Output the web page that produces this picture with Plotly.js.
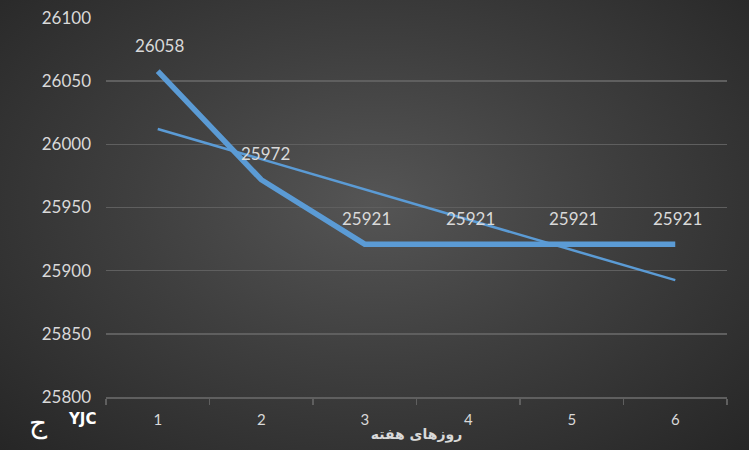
<!DOCTYPE html>
<html><head><meta charset="utf-8">
<script src="https://cdn.plot.ly/plotly-3.0.1.min.js"></script>
<style>
html,body{margin:0;padding:0;}
#wrap{width:749px;height:450px;background:radial-gradient(ellipse at 50% 45%, #555555 0%, #3f3f3f 45%, #262626 100%);}
#chart{width:749px;height:450px;}
</style></head>
<body><div id="wrap"><div id="chart"></div></div>
<script>
const days = [1, 2, 3, 4, 5, 6];
const values = [26058, 25972, 25921, 25921, 25921, 25921];
const yTicks = [25800, 25850, 25900, 25950, 26000, 26050, 26100];
const xTitle = 'روزهای هفته';

// linear trendline computed from the series
const n = days.length;
const mx = days.reduce((a,b)=>a+b,0)/n;
const my = values.reduce((a,b)=>a+b,0)/n;
let sxy=0, sxx=0;
for (let i=0;i<n;i++){ sxy += (days[i]-mx)*(values[i]-my); sxx += (days[i]-mx)**2; }
const slope = sxy/sxx, icpt = my - slope*mx;
const trend = days.map(d => icpt + slope*d);

const font = 'Lato, "Open Sans", sans-serif';
const data = [
  {x: days, y: trend, type:'scatter', mode:'lines', line:{color:'#5b9bd5', width:2.5}, hoverinfo:'skip'},
  {x: days, y: values, type:'scatter', mode:'lines', line:{color:'#5b9bd5', width:5.5}}
];
const labelAnn = days.map((d,i)=>({x: i, y: values[i], xref:'x', yref:'y', text:String(values[i]),
  showarrow:false, yshift:26, xshift: i===1 ? 4 : 2, font:{family:font, size:17, color:'#d9d9d9'}}));
const layout = {
  width:749, height:450,
  margin:{l:106, r:22, t:18, b:53},
  paper_bgcolor:'rgba(0,0,0,0)', plot_bgcolor:'rgba(0,0,0,0)',
  showlegend:false,
  font:{family:font, color:'#d9d9d9'},
  xaxis:{type:'category', range:[-0.5,5.5], tickvals:days, ticktext:days.map(String),
    tickson:'boundaries', ticks:'outside', ticklen:6, tickcolor:'#5f5f5f', tickwidth:1.5,
    showline:true, linecolor:'#5f5f5f', linewidth:1.5, showgrid:false, zeroline:false,
    ticklabelstandoff:8,
    tickfont:{size:15, color:'#d9d9d9'},
    title:{text:'<b>'+xTitle+'</b>', font:{family:'"DejaVu Sans", sans-serif', size:14, color:'#d9d9d9'}, standoff:2}},
  yaxis:{range:[25800,26100], tickvals:yTicks, ticktext:yTicks.map(String),
    showgrid:true, gridcolor:'#5f5f5f', gridwidth:1.5, zeroline:false, showline:false,
    ticks:'', ticklabelstandoff:14, tickfont:{size:17, color:'#d9d9d9'}},
  annotations: labelAnn.concat([
    {xref:'paper', yref:'paper', x:-0.108, y:-0.068, xanchor:'center', yanchor:'middle', showarrow:false,
     text:'ج', font:{family:'"DejaVu Sans", sans-serif', size:28, color:'#ffffff'}},
    {xref:'paper', yref:'paper', x:-0.064, y:-0.058, xanchor:'left', yanchor:'middle', showarrow:false,
     text:'<b>YJC</b>', font:{family:'"DejaVu Sans", sans-serif', size:15, color:'#ffffff'}}
  ])
};
Plotly.newPlot('chart', data, layout, {displayModeBar:false, staticPlot:true});
</script></body></html>
